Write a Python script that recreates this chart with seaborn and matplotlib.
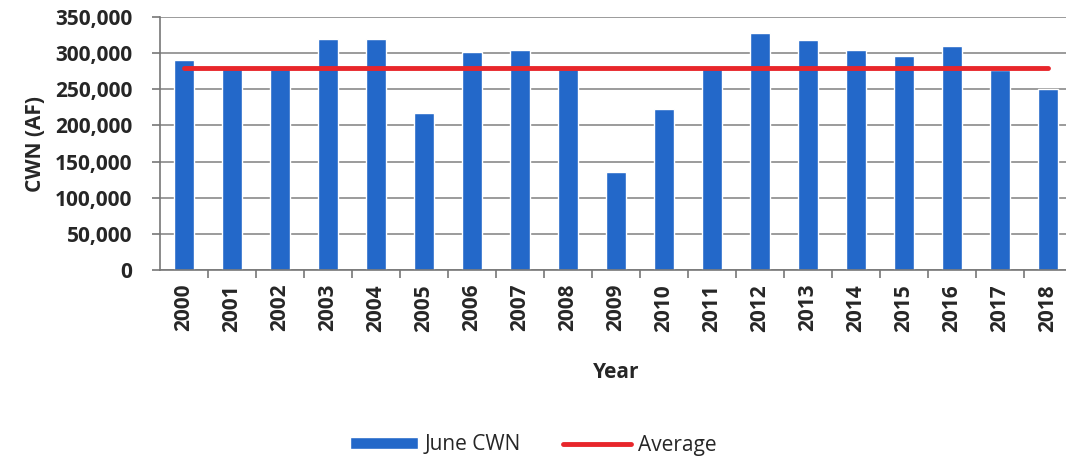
import numpy as np
import pandas as pd
import matplotlib
matplotlib.use('Agg')
import matplotlib.pyplot as plt
import seaborn as sns
from matplotlib.ticker import FuncFormatter
from matplotlib.patches import Patch
from matplotlib.lines import Line2D

# 데이터
years = [str(y) for y in range(2000, 2019)]
june_cwn = [290000, 279000, 278000, 320000, 319000, 217000, 301000, 304000, 278000,
            136000, 223000, 280000, 328000, 318000, 305000, 296000, 310000, 276000, 250000]
average = 279000

df = pd.DataFrame({'Year': years, 'June CWN': june_cwn})
df['Average'] = average

sns.set_style('white')
plt.rcParams['font.family'] = ['Open Sans', 'DejaVu Sans']

fig = plt.figure(figsize=(10.66, 4.59), dpi=100)
ax = fig.add_axes([160 / 1066, 1 - 270 / 459, 912 / 1066, 253 / 459])

sns.barplot(data=df, x='Year', y='June CWN', color='#2368c9', width=0.4,
            saturation=1, ax=ax, zorder=2)
ax.plot(df['Year'], df['Average'], color='#e8262b', lw=3.5, zorder=3)

ax.set_ylim(0, 350000)
ax.set_xlim(-0.5, 18.5)
ax.set_yticks(np.arange(0, 350001, 50000))
ax.yaxis.set_major_formatter(FuncFormatter(lambda v, p: f'{int(v):,}'))
ax.grid(axis='y', color='#8a8a8a', lw=1.2, zorder=0)
for s in ['top', 'right']:
    ax.spines[s].set_visible(False)
for s in ['left', 'bottom']:
    ax.spines[s].set_color('#777777')
    ax.spines[s].set_linewidth(1.2)

# 카테고리 경계에 눈금
ax.set_xticks(np.arange(len(years)) + 0.5, minor=True)
ax.tick_params(axis='x', which='major', rotation=90, labelsize=15, length=0, pad=10)
ax.tick_params(axis='x', which='minor', bottom=True, length=6, color='#777777', width=1.2)
ax.tick_params(axis='y', left=True, labelsize=15, length=6, color='#777777', width=1.2, pad=14)
for lab in ax.get_xticklabels() + ax.get_yticklabels():
    lab.set_fontweight('bold')
    lab.set_fontstretch('condensed')

ax.set_xlabel('Year', fontsize=15, fontweight='bold', labelpad=22)
ax.set_ylabel('CWN (AF)', fontsize=15, fontweight='bold', labelpad=6)

handles = [Patch(facecolor='#2368c9', label='June CWN'),
           Line2D([0], [0], color='#e8262b', lw=3.5, label='Average')]
fig.legend(handles=handles, loc='center', bbox_to_anchor=(0.5, 1 - 445 / 459),
           ncol=2, frameon=False, fontsize=15, handlelength=3.3, handleheight=0.5,
           columnspacing=2.0, handletextpad=0.3)

fig.savefig('out.png', dpi=100)
